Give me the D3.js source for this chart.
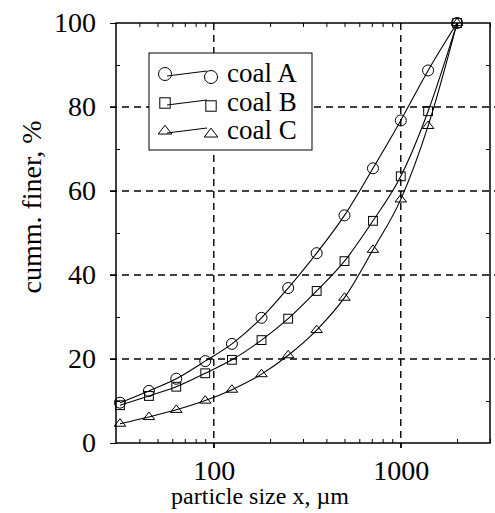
<!DOCTYPE html>
<html lang="en">
  <head>
    <meta charset="UTF-8" />
    <title>coal size distribution</title>
    <style>
      body { margin: 0; background: #fff; }
      text { font-family: "Liberation Serif", "DejaVu Serif", serif; fill: #000; }
      .axis text { font-size: 28px; }
      .grid line { stroke: #000; stroke-width: 1.4; stroke-dasharray: 7,5; }
    </style>
  </head>
  <body>
    <div id="app"></div>
    <script src="https://cdn.jsdelivr.net/npm/d3@7/dist/d3.min.js"></script>
    <script>
      // particle sizes (µm) of the sieve fractions
      const sizes = [31.5, 45, 63, 90, 125, 180, 250, 355, 500, 710, 1000, 1400, 2000];
      // cumulative finer, %
      const coalA = [9.6, 12.4, 15.3, 19.5, 23.6, 29.8, 36.9, 45.2, 54.2, 65.4, 76.8, 88.7, 100];
      const coalB = [9.0, 11.2, 13.4, 16.6, 19.8, 24.5, 29.6, 36.2, 43.3, 52.9, 63.5, 79.0, 100];
      const coalC = [4.6, 6.2, 7.9, 10.1, 12.7, 16.4, 20.9, 26.9, 34.6, 46.0, 58.0, 75.5, 100];
      const seriesNames = ["coal A", "coal B", "coal C"];
      const markers = ["circle", "square", "triangle"];

      const xMajor = [100, 1000];
      const xMinor = [40, 50, 60, 70, 80, 90, 200, 300, 400, 500, 600, 700, 800, 900, 2000, 3000];
      const yMajor = [0, 20, 40, 60, 80, 100];
      const yMinor = [10, 30, 50, 70, 90];

      const width = 495, height = 513;
      const m = { left: 116, top: 23, right: 5, bottom: 70 };
      const x0 = m.left, x1 = width - m.right, y0 = m.top, y1 = height - m.bottom;

      const x = d3.scaleLog().domain([30, 3000]).range([x0, x1]);
      const y = d3.scaleLinear().domain([0, 100]).range([y1, y0]);

      const svg = d3.select("#app").append("svg")
        .attr("width", width).attr("height", height);

      // dashed grid
      const grid = svg.append("g").attr("class", "grid");
      grid.selectAll(".gy").data(yMajor.filter(d => d > 0 && d < 100)).enter().append("line")
        .attr("x1", x0 - 6).attr("x2", x1 + 5)
        .attr("y1", d => y(d)).attr("y2", d => y(d));
      grid.selectAll(".gx").data(xMajor).enter().append("line")
        .attr("x1", d => x(d)).attr("x2", d => x(d))
        .attr("y1", y0).attr("y2", y1 + 5);

      // axes
      const fmt = d => d3.format("d")(d);
      svg.append("g").attr("class", "axis").attr("transform", `translate(${x0},0)`)
        .call(d3.axisLeft(y).tickValues(yMajor).tickFormat(fmt).tickSize(6).tickPadding(14))
        .call(g => g.select(".domain").remove());
      svg.append("g").attr("class", "axis").attr("transform", `translate(${x0},0)`)
        .call(d3.axisLeft(y).tickValues(yMinor).tickFormat("").tickSize(-4))
        .call(g => g.select(".domain").remove());
      svg.append("g").attr("class", "axis").attr("transform", `translate(${x1},0)`)
        .call(d3.axisRight(y).tickValues(yMinor).tickFormat("").tickSize(-4))
        .call(g => g.select(".domain").remove());

      svg.append("g").attr("class", "axis").attr("transform", `translate(0,${y1})`)
        .call(d3.axisBottom(x).tickValues(xMajor).tickFormat(fmt).tickSize(5).tickPadding(12))
        .call(g => g.select(".domain").remove());
      svg.append("g").attr("class", "axis").attr("transform", `translate(0,${y1})`)
        .call(d3.axisBottom(x).tickValues(xMinor).tickFormat("").tickSize(-4))
        .call(g => g.select(".domain").remove());
      svg.append("g").attr("class", "axis").attr("transform", `translate(0,${y0})`)
        .call(d3.axisTop(x).tickValues(xMinor).tickFormat("").tickSize(-4))
        .call(g => g.select(".domain").remove());

      // frame
      svg.append("rect").attr("x", x0).attr("y", y0)
        .attr("width", x1 - x0).attr("height", y1 - y0)
        .attr("fill", "none").attr("stroke", "#000").attr("stroke-width", 1.5);

      // axis titles
      svg.append("text").attr("x", 260).attr("y", 504)
        .attr("text-anchor", "middle").style("font-size", "24px")
        .text("particle size x, \u00b5m");
      svg.append("text").attr("transform", "translate(41,207) rotate(-90)")
        .attr("text-anchor", "middle").style("font-size", "28px")
        .text("cumm. finer, %");

      // markers
      function drawMarker(g, type, cx, cy, s) {
        if (type === "circle") {
          g.append("circle").attr("cx", cx).attr("cy", cy).attr("r", s);
        } else if (type === "square") {
          g.append("rect").attr("x", cx - s * 0.8).attr("y", cy - s * 0.8)
            .attr("width", s * 1.6).attr("height", s * 1.6);
        } else {
          const w = s * 1.05, h = s * 0.85;
          g.append("path").attr("d", `M${cx - w},${cy + h * 0.55}L${cx + w},${cy + h * 0.55}L${cx},${cy - h * 1.05}Z`);
        }
      }

      const line = d3.line().x(d => x(d[0])).y(d => y(d[1])).curve(d3.curveMonotoneX);
      const plot = svg.append("g");
      [coalA, coalB, coalC].forEach((vals, i) => {
        const pts = sizes.map((s, j) => [s, vals[j]]);
        plot.append("path").attr("d", line(pts))
          .attr("fill", "none").attr("stroke", "#000").attr("stroke-width", 1.1);
        const g = plot.append("g").attr("fill", "none").attr("stroke", "#000").attr("stroke-width", 1);
        pts.forEach(p => drawMarker(g, markers[i], x(p[0]), y(p[1]), 5.5));
      });

      // legend
      const lg = svg.append("g");
      lg.append("rect").attr("x", 149).attr("y", 53).attr("width", 163).attr("height", 97)
        .attr("fill", "#fff").attr("stroke", "#000").attr("stroke-width", 1);
      const rowY = [74, 103, 131];
      seriesNames.forEach((name, i) => {
        const ry = rowY[i];
        const g = lg.append("g").attr("fill", "none").attr("stroke", "#000").attr("stroke-width", 1);
        g.append("line").attr("x1", 167).attr("y1", ry + 2).attr("x2", 207).attr("y2", ry - 3);
        drawMarker(g, markers[i], 165, ry, 6.5);
        drawMarker(g, markers[i], 211, ry + 3, 6.5);
        lg.append("text").attr("x", 227).attr("y", ry + 8)
          .style("font-size", "27px").text(name);
      });
    </script>
  </body>
</html>
